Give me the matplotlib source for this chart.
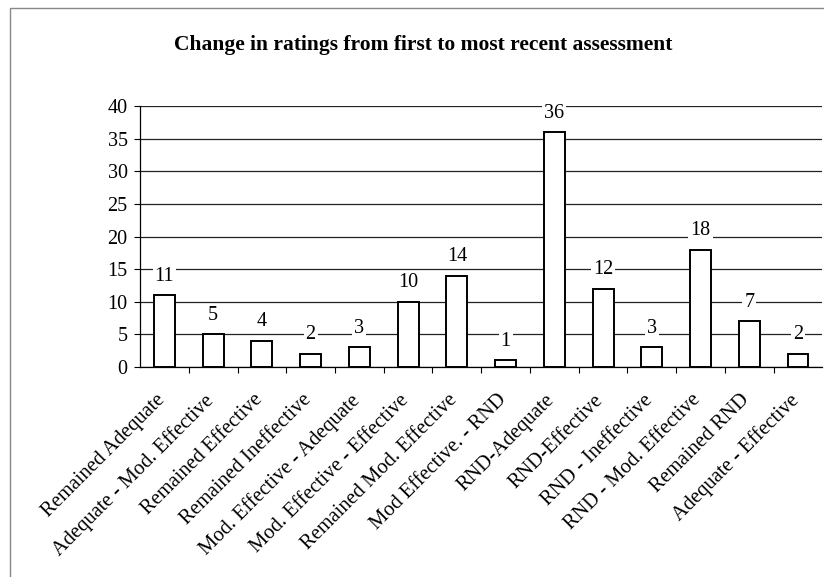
import matplotlib.pyplot as plt
import matplotlib.transforms as mtransforms
from matplotlib.patches import Rectangle

# categories and counts
categories = ["Remained Adequate", "Adequate - Mod. Effective", "Remained Effective",
              "Remained Ineffective", "Mod. Effective - Adequate", "Mod. Effective - Effective",
              "Remained Mod. Effective", "Mod Effective. - RND", "RND-Adequate", "RND-Effective",
              "RND - Ineffective", "RND - Mod. Effective", "Remained RND", "Adequate - Effective"]
counts = [11, 5, 4, 2, 3, 10, 14, 1, 36, 12, 3, 18, 7, 2]
yticks = [0, 5, 10, 15, 20, 25, 30, 35, 40]

plt.rcParams['font.family'] = ['Liberation Serif', 'DejaVu Serif']

fig = plt.figure(figsize=(8.24, 5.77), dpi=100)
ax = fig.add_axes([0.170, 0.364, 0.828, 0.452])

x = list(range(len(categories)))
ax.bar(x, counts, width=0.43, color='white', edgecolor='black', linewidth=1.4, zorder=3)

for i, v in enumerate(counts):
    ax.annotate(str(v), (i, v), xytext=(0, 7), textcoords='offset points',
                ha='center', va='bottom', fontsize=14.5, zorder=4,
                bbox=dict(boxstyle='square,pad=0.1', fc='white', ec='none'))

ax.set_xlim(-0.5, len(categories) - 0.5)
ax.set_ylim(0, 40)
ax.set_yticks(yticks)
ax.yaxis.grid(True, color='#222222', linewidth=0.9, zorder=0)
ax.tick_params(axis='y', labelsize=14.5, length=4, width=0.8, direction='out', pad=5)

# ticks between categories
ax.set_xticks([i + 0.5 for i in range(len(categories) - 1)], minor=True)
ax.set_xticks(x)
ax.set_xticklabels(categories, rotation=45, ha='right', rotation_mode='anchor',
                   fontsize=14.8)
ax.tick_params(axis='x', which='major', length=0, pad=17)
ax.tick_params(axis='x', which='minor', length=4, width=0.8, direction='out')
shift = mtransforms.ScaledTranslation(-9 / 100, 0, fig.dpi_scale_trans)
for lbl in ax.get_xticklabels():
    lbl.set_transform(lbl.get_transform() + shift)

for s in ['top', 'right']:
    ax.spines[s].set_visible(False)
ax.spines['left'].set_linewidth(0.9)
ax.spines['bottom'].set_linewidth(0.9)

fig.text(0.513, 0.922, "Change in ratings from first to most recent assessment",
         ha='center', va='center', fontsize=15.5, fontweight='bold')

# outer chart border
fig.patches.append(Rectangle((10 / 824, -0.1), 1.2, 1.1 - 8 / 577, transform=fig.transFigure,
                             fill=False, edgecolor='#888888', linewidth=1.0))

fig.savefig("out.png", dpi=100)
